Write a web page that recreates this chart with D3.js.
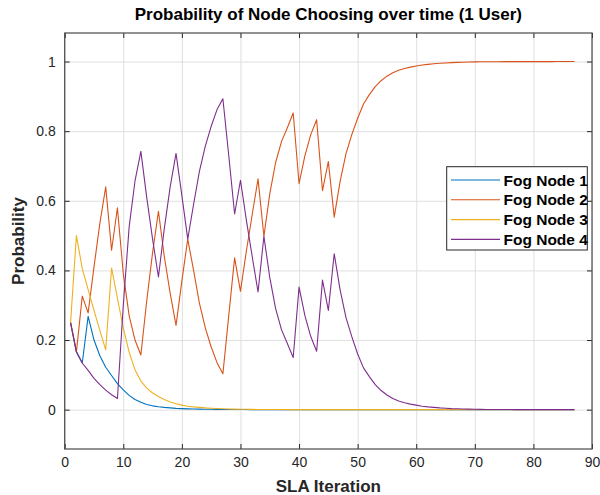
<!DOCTYPE html>
<html>
<head>
<meta charset="utf-8">
<script src="https://cdn.jsdelivr.net/npm/d3@7"></script>
<style>
  html, body { margin: 0; padding: 0; background: #fff; }
  svg { display: block; font-family: Arial, "Liberation Sans", Helvetica, sans-serif; }
</style>
</head>
<body>
<svg id="chart" width="600" height="495"></svg>
<script>
// ---------------- data ----------------
const iterations = d3.range(1, 88); // SLA iteration 1..87
const seriesNames = ["Fog Node 1", "Fog Node 2", "Fog Node 3", "Fog Node 4"];
const seriesColors = ["#0072BD", "#D95319", "#EDB120", "#7E2F8E"];

const fogNode1 = [
  0.25, 0.166, 0.134, 0.268, 0.2, 0.155, 0.122, 0.098, 0.075, 0.057,
  0.041, 0.029, 0.021, 0.015, 0.011, 0.0085, 0.0065, 0.005, 0.0038, 0.003,
  0.0024, 0.0019, 0.0015, 0.0012, 0.001, 0.0008, 0.0006, 0.0005, 0.0004, 0.0003,
  0.0003, 0.0002, 0.0002, 0.0002, 0.0001, 0.0001, 0.0001, 0.0001, 0.0001, 0.0001,
  0, 0, 0, 0, 0, 0, 0, 0, 0, 0,
  0, 0, 0, 0, 0, 0, 0, 0, 0, 0,
  0, 0, 0, 0, 0, 0, 0, 0, 0, 0,
  0, 0, 0, 0, 0, 0, 0, 0, 0, 0,
  0, 0, 0, 0, 0, 0, 0
];
const fogNode2 = [
  0.25, 0.166, 0.326, 0.278, 0.41, 0.535, 0.64, 0.458, 0.58, 0.39,
  0.27, 0.2, 0.157, 0.313, 0.451, 0.57, 0.44, 0.335, 0.242, 0.37,
  0.49, 0.40, 0.305, 0.235, 0.18, 0.135, 0.103, 0.27, 0.436, 0.34,
  0.455, 0.56, 0.663, 0.498, 0.62, 0.71, 0.77, 0.81, 0.852, 0.649,
  0.73, 0.79, 0.833, 0.629, 0.713, 0.553, 0.655, 0.735, 0.79, 0.837,
  0.878, 0.905, 0.928, 0.945, 0.958, 0.968, 0.975, 0.98, 0.984, 0.987,
  0.99, 0.992, 0.9935, 0.995, 0.996, 0.997, 0.9975, 0.998, 0.9985, 0.999,
  0.9992, 0.9994, 0.9995, 0.9996, 0.9997, 0.9997, 0.9998, 0.9998, 0.9998, 0.9999,
  0.9999, 0.9999, 0.9999, 1, 1, 1, 1
];
const fogNode3 = [
  0.25, 0.5, 0.405, 0.345, 0.285, 0.228, 0.172, 0.407, 0.32, 0.235,
  0.165, 0.115, 0.082, 0.062, 0.048, 0.038, 0.029, 0.022, 0.017, 0.013,
  0.010, 0.008, 0.0065, 0.005, 0.004, 0.0032, 0.0025, 0.002, 0.0016, 0.0013,
  0.001, 0.0008, 0.0006, 0.0005, 0.0004, 0.0003, 0.0003, 0.0002, 0.0002, 0.0002,
  0.0001, 0.0001, 0.0001, 0.0001, 0.0001, 0.0001, 0.0001, 0.0001, 0.0001, 0.0001,
  0, 0, 0, 0, 0, 0, 0, 0, 0, 0,
  0, 0, 0, 0, 0, 0, 0, 0, 0, 0,
  0, 0, 0, 0, 0, 0, 0, 0, 0, 0,
  0, 0, 0, 0, 0, 0, 0
];
const fogNode4 = [
  0.25, 0.166, 0.134, 0.113, 0.09, 0.072, 0.056, 0.043, 0.032, 0.3,
  0.525, 0.657, 0.742, 0.61, 0.49, 0.381, 0.52, 0.64, 0.736, 0.615,
  0.49, 0.59, 0.685, 0.757, 0.814, 0.862, 0.893, 0.73, 0.562, 0.659,
  0.545, 0.44, 0.338, 0.498, 0.38, 0.29, 0.23, 0.19, 0.15, 0.352,
  0.27, 0.21, 0.168, 0.372, 0.285, 0.448, 0.345, 0.265, 0.21, 0.16,
  0.12, 0.095, 0.072, 0.055, 0.042, 0.032, 0.025, 0.02, 0.016, 0.013,
  0.01, 0.008, 0.0065, 0.005, 0.004, 0.003, 0.0025, 0.002, 0.0015, 0.001,
  0.0008, 0.0006, 0.0005, 0.0004, 0.0003, 0.0003, 0.0002, 0.0002, 0.0002, 0.0001,
  0.0001, 0.0001, 0.0001, 0, 0, 0, 0
];
const seriesValues = [fogNode1, fogNode2, fogNode3, fogNode4];

const xTicks = [0, 10, 20, 30, 40, 50, 60, 70, 80, 90];
const yTicks = [0, 0.2, 0.4, 0.6, 0.8, 1];
const yTickLabels = ["0", "0.2", "0.4", "0.6", "0.8", "1"];

const titleText = "Probability of Node Choosing over time (1 User)";
const xLabelText = "SLA Iteration";
const yLabelText = "Probability";

// ---------------- layout ----------------
const L = 64.7, R = 592, T = 33, B = 449;
const svg = d3.select("#chart");

const x = d3.scaleLinear().domain([0, 90]).range([L, R]);
const y = d3.scaleLinear().domain([-0.113, 1.082]).range([B, T]);

const axisColor = "#262626";
const gridColor = "#dfdfdf";

// grid
const grid = svg.append("g");
grid.append("g")
  .attr("transform", `translate(0,${B})`)
  .call(d3.axisBottom(x).tickValues(xTicks).tickSize(-(B - T)).tickFormat(""))
  .call(g => g.select(".domain").remove())
  .call(g => g.selectAll("line").attr("stroke", gridColor).attr("stroke-width", 1));
grid.append("g")
  .attr("transform", `translate(${L},0)`)
  .call(d3.axisLeft(y).tickValues(yTicks).tickSize(-(R - L)).tickFormat(""))
  .call(g => g.select(".domain").remove())
  .call(g => g.selectAll("line").attr("stroke", gridColor).attr("stroke-width", 1));

// clip
svg.append("clipPath").attr("id", "clip")
  .append("rect").attr("x", L).attr("y", T).attr("width", R - L).attr("height", B - T);

// lines
const line = d3.line()
  .x((d, i) => x(iterations[i]))
  .y(d => y(d));

const linesG = svg.append("g").attr("clip-path", "url(#clip)");
seriesValues.forEach((vals, k) => {
  linesG.append("path")
    .datum(vals)
    .attr("fill", "none")
    .attr("stroke", seriesColors[k])
    .attr("stroke-width", 1.1)
    .attr("stroke-linejoin", "round")
    .attr("d", line);
});

// axes with inward ticks
const tickLen = 5;
const fontTick = 14;

const xAxisB = svg.append("g")
  .attr("transform", `translate(0,${B})`)
  .call(d3.axisBottom(x).tickValues(xTicks).tickSizeInner(-tickLen).tickSizeOuter(0).tickPadding(8)
    .tickFormat(d3.format("d")));
xAxisB.selectAll("text").attr("font-size", fontTick).attr("fill", axisColor)
  .attr("font-family", "Arial, 'Liberation Sans', sans-serif");

const xAxisT = svg.append("g")
  .attr("transform", `translate(0,${T})`)
  .call(d3.axisTop(x).tickValues(xTicks).tickSizeInner(-tickLen).tickSizeOuter(0).tickFormat(""));

const yAxisL = svg.append("g")
  .attr("transform", `translate(${L},0)`)
  .call(d3.axisLeft(y).tickValues(yTicks).tickSizeInner(-tickLen).tickSizeOuter(0).tickPadding(9)
    .tickFormat((d, i) => yTickLabels[i]));
yAxisL.selectAll("text").attr("font-size", fontTick).attr("fill", axisColor)
  .attr("font-family", "Arial, 'Liberation Sans', sans-serif");

const yAxisR = svg.append("g")
  .attr("transform", `translate(${R},0)`)
  .call(d3.axisRight(y).tickValues(yTicks).tickSizeInner(-tickLen).tickSizeOuter(0).tickFormat(""));

[xAxisB, xAxisT, yAxisL, yAxisR].forEach(g => {
  g.select(".domain").remove();
  g.selectAll("line").attr("stroke", axisColor).attr("stroke-width", 1);
});

// box
svg.append("rect")
  .attr("x", L).attr("y", T).attr("width", R - L).attr("height", B - T)
  .attr("fill", "none").attr("stroke", "#4a4a4a").attr("stroke-width", 1.2);

// title & labels
svg.append("text")
  .attr("x", (L + R) / 2).attr("y", 20)
  .attr("text-anchor", "middle")
  .attr("font-size", 17).attr("font-weight", "bold").attr("fill", "#000")
  .text(titleText);

svg.append("text")
  .attr("x", (L + R) / 2).attr("y", 492)
  .attr("text-anchor", "middle")
  .attr("font-size", 17).attr("font-weight", "bold").attr("fill", axisColor)
  .text(xLabelText);

svg.append("text")
  .attr("transform", `translate(24,${(T + B) / 2}) rotate(-90)`)
  .attr("text-anchor", "middle")
  .attr("font-size", 17).attr("font-weight", "bold").attr("fill", axisColor)
  .text(yLabelText);

// legend
const lg = svg.append("g");
const lgX = 446.7, lgY = 166.7, lgW = 140.6, lgH = 83.3;
lg.append("rect")
  .attr("x", lgX).attr("y", lgY).attr("width", lgW).attr("height", lgH)
  .attr("fill", "#fff").attr("stroke", axisColor).attr("stroke-width", 1);
seriesNames.forEach((name, k) => {
  const cy = 180 + k * 19.8;
  lg.append("line")
    .attr("x1", 451).attr("x2", 500).attr("y1", cy).attr("y2", cy)
    .attr("stroke", seriesColors[k]).attr("stroke-width", 1.1);
  lg.append("text")
    .attr("x", 503.5).attr("y", cy + 5.6)
    .attr("font-size", 15.5).attr("font-weight", "bold").attr("fill", "#000")
    .text(name);
});
</script>
</body>
</html>
